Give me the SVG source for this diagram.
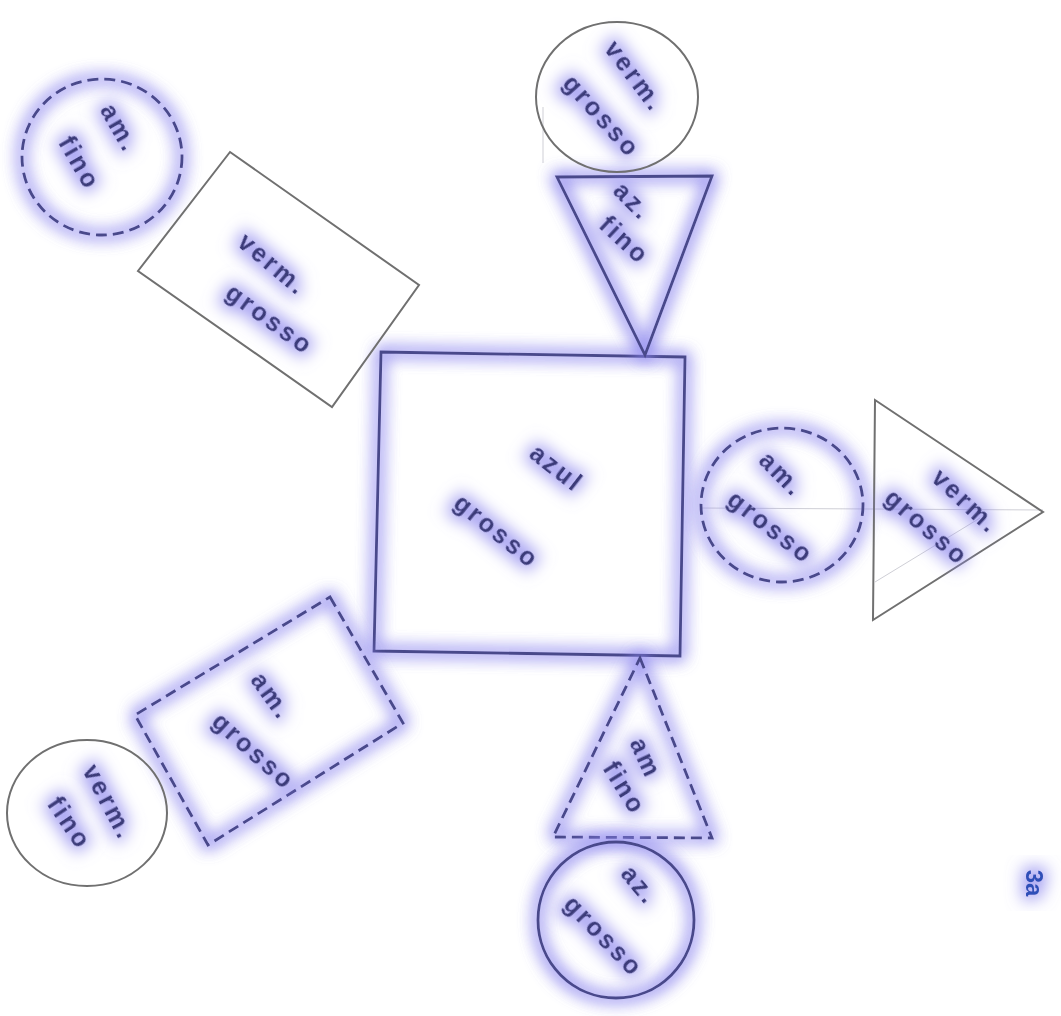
<svg xmlns="http://www.w3.org/2000/svg" width="1061" height="1016" viewBox="0 0 1061 1016">
<defs>
<filter id="glow" x="-30%" y="-30%" width="160%" height="160%">
<feMorphology in="SourceAlpha" operator="dilate" radius="2" result="d"/>
<feGaussianBlur in="d" stdDeviation="8" result="b"/>
<feFlood flood-color="#8c86ee" flood-opacity="0.8"/>
<feComposite in2="b" operator="in" result="halo"/>
<feMerge><feMergeNode in="halo"/><feMergeNode in="halo"/><feMergeNode in="SourceGraphic"/></feMerge>
</filter>
<filter id="tglow" x="-50%" y="-100%" width="200%" height="300%">
<feMorphology in="SourceAlpha" operator="dilate" radius="4" result="d"/>
<feGaussianBlur in="d" stdDeviation="8" result="b"/>
<feFlood flood-color="#8c86ee" flood-opacity="0.75"/>
<feComposite in2="b" operator="in" result="halo"/>
<feMerge><feMergeNode in="halo"/><feMergeNode in="SourceGraphic"/></feMerge>
</filter>
</defs>
<style>
.gray{fill:none;stroke:#707070;stroke-width:2}
.blue{fill:none;stroke:#48488a;stroke-width:2.8;filter:url(#glow)}
.dash{stroke-dasharray:11 6}
.lbl{font-family:"Liberation Sans",Arial,sans-serif;font-size:25px;font-weight:bold;letter-spacing:3px;fill:#3a3a78;text-anchor:middle;dominant-baseline:central;filter:url(#tglow)}
.guide{fill:none;stroke:#cfcfd6;stroke-width:1}
</style>
<rect width="1061" height="1016" fill="#ffffff"/>
<g id="connectors">
<path class="guide" d="M700 508 L1043 510 M875 582 L980 518 M543 107 L543 163"/>
</g>
<g id="center-square">
<path class="blue" d="M381 352 L685 357 L680 656 L374 651 Z"/>
<text class="lbl" transform="rotate(38 557 468)" x="557" y="468">azul</text>
<text class="lbl" transform="rotate(39 497 531)" x="497" y="531">grosso</text>
</g>
<g id="top-triangle">
<path class="blue" d="M557 177 L712 176 L645 355 Z"/>
<text class="lbl" transform="rotate(45 633 201)" x="633" y="201">az.</text>
<text class="lbl" transform="rotate(43 625 240)" x="625" y="240">fino</text>
</g>
<g id="top-circle">
<ellipse class="gray" cx="617" cy="97" rx="81" ry="75"/>
<text class="lbl" transform="rotate(53 635 76)" x="635" y="76">verm.</text>
<text class="lbl" transform="rotate(48 602 116)" x="602" y="116">grosso</text>
</g>
<g id="topleft-circle">
<ellipse class="blue dash" cx="102" cy="157" rx="80" ry="78"/>
<text class="lbl" transform="rotate(60 120 128)" x="120" y="128">am.</text>
<text class="lbl" transform="rotate(60 80 163)" x="80" y="163">fino</text>
</g>
<g id="topleft-rect">
<path class="gray" d="M230 152 L419 285 L332 407 L138 271 Z"/>
<text class="lbl" transform="rotate(40 273 264)" x="273" y="264">verm.</text>
<text class="lbl" transform="rotate(36 270 319)" x="270" y="319">grosso</text>
</g>
<g id="right-circle">
<ellipse class="blue dash" cx="782" cy="505" rx="81" ry="77"/>
<text class="lbl" transform="rotate(45 782 474)" x="782" y="474">am.</text>
<text class="lbl" transform="rotate(38 771 527)" x="771" y="527">grosso</text>
</g>
<g id="right-triangle">
<path class="gray" d="M875 400 L1043 512 L873 620 Z"/>
<text class="lbl" transform="rotate(43 966 501)" x="966" y="501">verm.</text>
<text class="lbl" transform="rotate(41 927 527)" x="927" y="527">grosso</text>
</g>
<g id="bottomleft-rect">
<path class="blue dash" d="M330 597 L403 723 L208 845 L135 715 Z"/>
<text class="lbl" transform="rotate(54 272 696)" x="272" y="696">am.</text>
<text class="lbl" transform="rotate(42 254 751)" x="254" y="751">grosso</text>
</g>
<g id="bottomleft-circle">
<ellipse class="gray" cx="87" cy="813" rx="80" ry="73"/>
<text class="lbl" transform="rotate(62 109 802)" x="109" y="802">verm.</text>
<text class="lbl" transform="rotate(56 70 823)" x="70" y="823">fino</text>
</g>
<g id="bottom-triangle">
<path class="blue dash" d="M640 658 L712 838 L553 837 Z"/>
<text class="lbl" transform="rotate(65 646 758)" x="646" y="758">am</text>
<text class="lbl" transform="rotate(58 625 788)" x="625" y="788">fino</text>
</g>
<g id="bottom-circle">
<ellipse class="blue" cx="616" cy="920" rx="78" ry="78"/>
<text class="lbl" transform="rotate(50 640 885)" x="640" y="885">az.</text>
<text class="lbl" transform="rotate(46 604 936)" x="604" y="936">grosso</text>
</g>
<g id="page-number">
<text class="lbl" transform="rotate(90 1035 883)" x="1035" y="883" style="letter-spacing:0px;font-size:24px;fill:#2f4fb8">3a</text>
</g>
</svg>
